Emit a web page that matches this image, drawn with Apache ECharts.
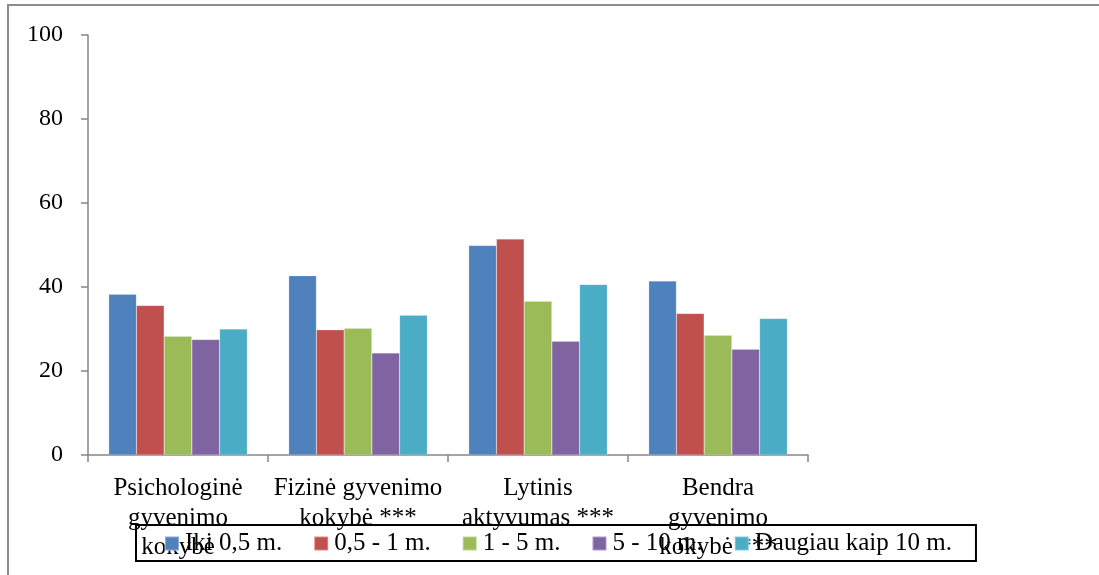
<!DOCTYPE html>
<html>
<head>
<meta charset="utf-8">
<script src="https://cdn.jsdelivr.net/npm/echarts@6/dist/echarts.min.js"></script>
<style>
  html, body { margin: 0; padding: 0; background: #ffffff; }
  #chart { width: 1099px; height: 575px; }
</style>
</head>
<body>
<div id="chart"></div>
<script>
// Quality-of-life scores by time since event
const categories = [
  'Psichologinė\ngyvenimo\nkokybė',
  'Fizinė gyvenimo\nkokybė ***',
  'Lytinis\naktyvumas ***',
  'Bendra\ngyvenimo\nkokybė ***'
];
const seriesNames = ['Iki 0,5 m.', '0,5 - 1 m.', '1 - 5 m.', '5 - 10 m.', 'Daugiau kaip 10 m.'];
const upTo05 = [38.3, 42.7, 49.9, 41.4];
const from05to1 = [35.6, 29.8, 51.4, 33.7];
const from1to5 = [28.3, 30.2, 36.6, 28.5];
const from5to10 = [27.5, 24.3, 27.1, 25.2];
const over10 = [30.0, 33.3, 40.6, 32.5];
const yTicks = [0, 20, 40, 60, 80, 100];

const colors = ['#4F81BD', '#C0504D', '#9BBB59', '#8064A2', '#4BACC6'];
const values = [upTo05, from05to1, from1to5, from5to10, over10];
const font = 'Liberation Serif, Times New Roman, serif';
const axisGray = '#868686';

const chart = echarts.init(document.getElementById('chart'), null, { renderer: 'canvas' });

chart.setOption({
  animation: false,
  backgroundColor: '#ffffff',
  color: colors,
  textStyle: { fontFamily: font },
  graphic: [{
    type: 'rect',
    shape: { x: 8, y: 5, width: 1200, height: 700 },
    style: { fill: 'none', stroke: '#8c8c8c', lineWidth: 2 },
    silent: true,
    z: -1
  }],
  grid: { left: 88, right: 291, top: 35, bottom: 120, containLabel: false },
  legend: {
    data: seriesNames,
    left: 136,
    top: 525,
    orient: 'horizontal',
    icon: 'rect',
    itemWidth: 14,
    itemHeight: 14,
    itemGap: 31,
    padding: [6, 24, 5, 28],
    borderColor: '#000000',
    borderWidth: 2,
    backgroundColor: 'transparent',
    textStyle: { fontFamily: font, fontSize: 25, color: '#000000', padding: [0, 0, 0, 1] }
  },
  xAxis: {
    type: 'category',
    data: categories,
    boundaryGap: true,
    axisLine: { lineStyle: { color: axisGray, width: 1.5 } },
    axisTick: { show: true, length: 7, lineStyle: { color: axisGray, width: 1.5 } },
    axisLabel: {
      interval: 0,
      margin: 19,
      fontFamily: font,
      fontSize: 25,
      lineHeight: 29.5,
      color: '#000000',
      align: 'center'
    },
    splitLine: { show: false }
  },
  yAxis: {
    type: 'value',
    min: yTicks[0],
    max: yTicks[yTicks.length - 1],
    interval: 20,
    axisLine: { show: true, lineStyle: { color: axisGray, width: 1.5 } },
    axisTick: { show: true, length: 7, lineStyle: { color: axisGray, width: 1.5 } },
    axisLabel: { margin: 25, fontFamily: font, fontSize: 24, color: '#000000' },
    splitLine: { show: false }
  },
  series: seriesNames.map((name, i) => ({
    name: name,
    type: 'bar',
    data: values[i],
    barGap: '0%',
    barCategoryGap: '23%',
    itemStyle: { color: colors[i], borderColor: 'rgba(255,255,255,0.35)', borderWidth: 0.5 }
  }))
});
</script>
</body>
</html>
